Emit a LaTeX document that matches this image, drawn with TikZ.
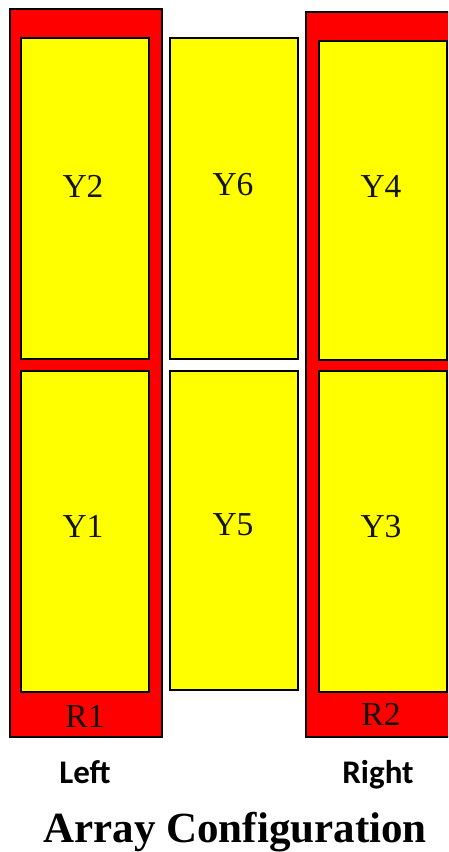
\documentclass[tikz,border=0pt]{standalone}
\usepackage{fontspec}
\setmainfont{Liberation Serif}
\newfontfamily\carlito{Carlito}
\definecolor{redfill}{RGB}{255,0,0}
\definecolor{yelfill}{RGB}{255,255,0}
\begin{document}
\begin{tikzpicture}[x=1pt,y=-1pt,
  redbox/.style={draw=black,fill=redfill,line width=1.3pt},
  yelbox/.style={draw=black,fill=yelfill,line width=1.3pt},
  lab/.style={anchor=base,font=\fontsize{33.5}{33.5}\selectfont,text=black!92!yelfill,inner sep=0pt},
  side/.style={anchor=base,font=\carlito\bfseries\fontsize{33}{33}\selectfont,inner sep=0pt},
  ttl/.style={anchor=base,font=\bfseries\fontsize{43}{43}\selectfont,inner sep=0pt}]
\useasboundingbox (0,0) rectangle (448,852);
\clip (0,0) rectangle (448,852);
% red frames
\draw[redbox] (10,9) rectangle (162,737);
\coordinate (R1box) at (86,373);
\draw[redbox] (306,12) rectangle (470,737);
\coordinate (R2box) at (388,373);
% yellow panels
\draw[yelbox] (21,38) rectangle (149,359);
\draw[yelbox] (21,371) rectangle (149,692);
\draw[yelbox] (170,38) rectangle (298,359);
\draw[yelbox] (170,371) rectangle (298,690);
\draw[yelbox] (319,41) rectangle (447,360);
\draw[yelbox] (319,371) rectangle (447,692);
% labels
\node[lab] (Y2) at (83,197) {Y2};
\node[lab] (Y6) at (233,195) {Y6};
\node[lab] (Y4) at (381,197) {Y4};
\node[lab] (Y1) at (83,537) {Y1};
\node[lab] (Y5) at (233,535) {Y5};
\node[lab] (Y3) at (381,537) {Y3};
\node[lab] (R1) at (85,727) {R1};
\node[lab] (R2) at (381,725) {R2};
\node[side] (L) at (85,783) {Left};
\node[side] (R) at (378,783) {Right};
\node[ttl] (T) at (235,842) {Array Configuration};
\end{tikzpicture}
\end{document}
